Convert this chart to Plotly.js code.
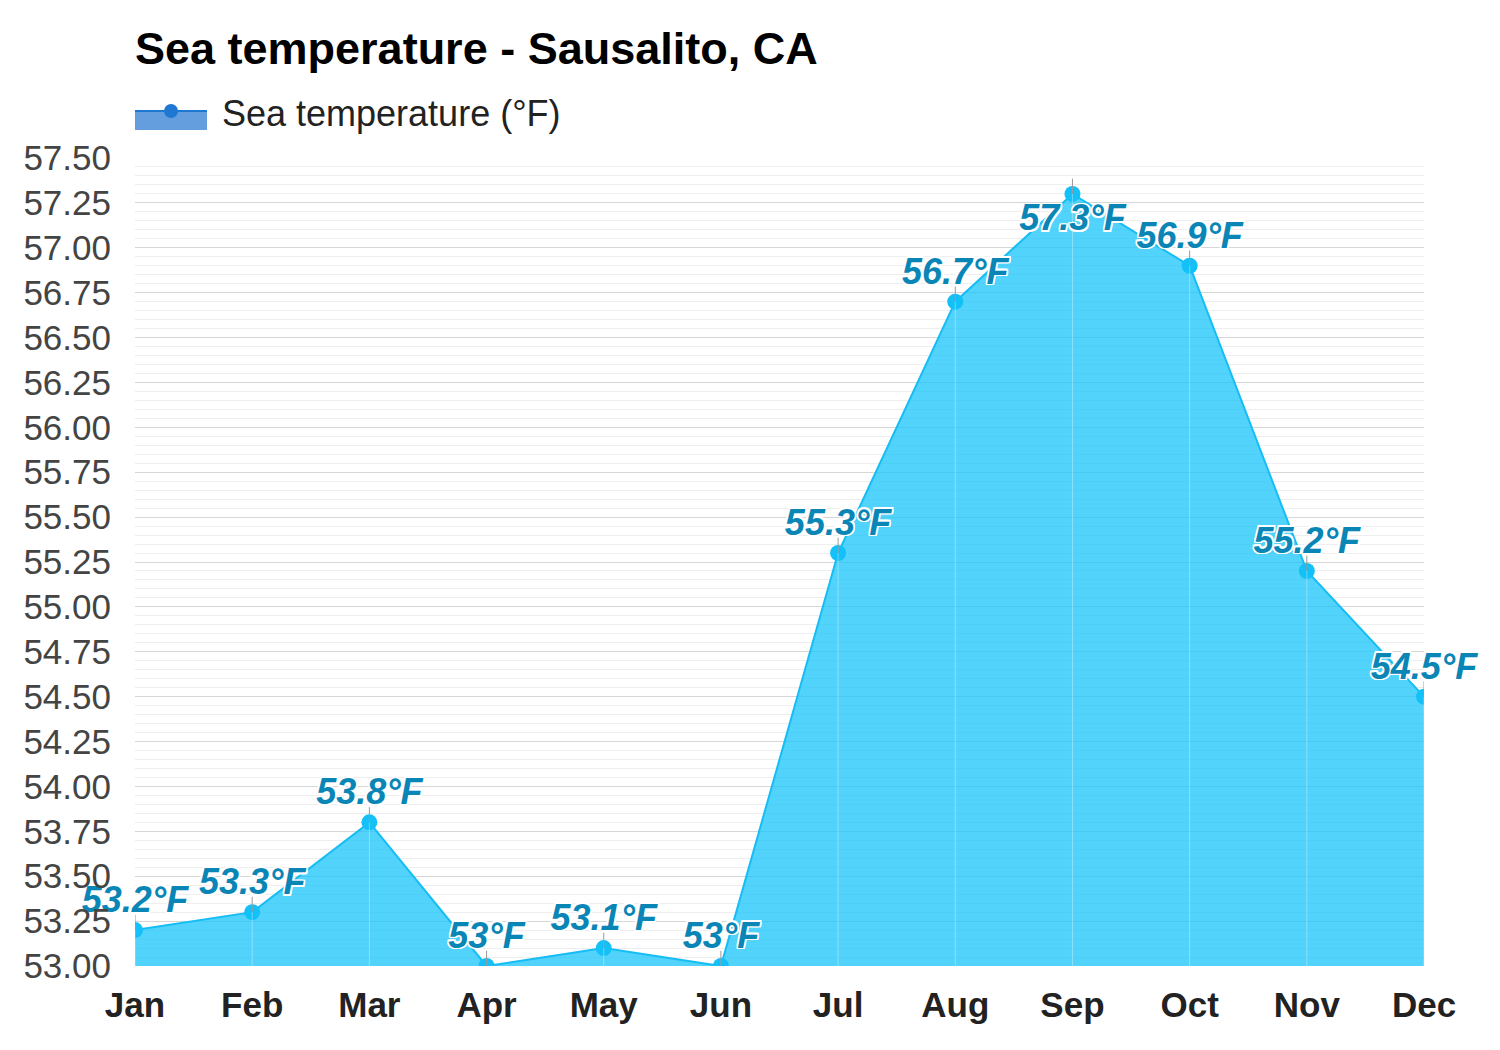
<!DOCTYPE html>
<html>
<head>
<meta charset="utf-8">
<script src="https://cdn.plot.ly/plotly-3.0.1.min.js"></script>
<style>html,body{margin:0;padding:0;background:#fff;}#chart{width:1500px;height:1050px;}</style>
</head>
<body>
<div id="chart"></div>
<script>
const months = ["Jan","Feb","Mar","Apr","May","Jun","Jul","Aug","Sep","Oct","Nov","Dec"];
const seaTemp = [53.2, 53.3, 53.8, 53.0, 53.1, 53.0, 55.3, 56.7, 57.3, 56.9, 55.2, 54.5];
const labels = ["53.2°F","53.3°F","53.8°F","53°F","53.1°F","53°F","55.3°F","56.7°F","57.3°F","56.9°F","55.2°F","54.5°F"];
const labelPos = ["top center","top center","top center","top center","top center","top center","top center","top center","bottom center","top center","top center","top center"];
const yMin = 53.0, yMax = 57.5;
const seriesName = "Sea temperature (°F)";

const FONT = "Liberation Sans, Arial, Helvetica, sans-serif";
const outline = "-1.5px -1.5px 0 #fff, 1.5px -1.5px 0 #fff, -1.5px 1.5px 0 #fff, 1.5px 1.5px 0 #fff, 0 1.5px 0 #fff, 0 -1.5px 0 #fff, 1.5px 0 0 #fff, -1.5px 0 0 #fff";

// plot area in px (for legend placement in paper coords)
const L = 135, R = 1424, T = 158, B = 966;
const px = v => (v - L) / (R - L);
const py = v => (B - v) / (B - T);

const traces = [
  {
    x: months, y: seaTemp, type: "scatter", mode: "lines+markers",
    fill: "tozeroy", fillcolor: "rgba(20,195,250,0.74)",
    line: {color: "#16bdf5", width: 2},
    marker: {color: "#14c0f8", size: 16},
    name: seriesName, showlegend: false, hoverinfo: "skip", cliponaxis: true
  },
  {
    x: months, y: seaTemp, type: "scatter", mode: "markers",
    marker: {color: "rgba(0,0,0,0)", size: 1},
    error_y: {type: "data", symmetric: false, array: seaTemp.map(() => 0), arrayminus: seaTemp.map(v => v - yMin),
              color: "rgba(255,255,255,0.35)", thickness: 1, width: 0},
    showlegend: false, hoverinfo: "skip", cliponaxis: true
  },
  {
    x: months, y: seaTemp, type: "scatter", mode: "markers+text",
    marker: {color: "rgba(0,0,0,0)", size: 13},
    error_y: {type: "constant", symmetric: false, value: 0.085, valueminus: 0,
              color: "#9a9a9a", thickness: 1, width: 0},
    text: labels, textposition: labelPos,
    textfont: {family: FONT, size: 36, color: "#0a86b6", weight: "bold", style: "italic", shadow: outline},
    showlegend: false, hoverinfo: "skip", cliponaxis: false
  }
];

const layout = {
  width: 1500, height: 1050,
  paper_bgcolor: "#fff", plot_bgcolor: "#fff",
  margin: {l: L, r: 1500 - R, t: T, b: 1050 - B},
  hovermode: false,
  font: {family: FONT},
  title: {
    text: "Sea temperature - Sausalito, CA",
    font: {family: FONT, size: 45, color: "#000", weight: "bold"},
    xref: "container", yref: "container",
    x: 135/1500, xanchor: "left", y: 1 - 48/1050, yanchor: "middle"
  },
  showlegend: false,
  shapes: [
    {type: "rect", xref: "paper", yref: "paper", x0: px(135), x1: px(207), y0: py(130), y1: py(111),
     fillcolor: "rgba(40,120,210,0.72)", line: {width: 0}, layer: "above"},
    {type: "line", xref: "paper", yref: "paper", x0: px(135), x1: px(207), y0: py(111), y1: py(111),
     line: {color: "#1e78d2", width: 2}, layer: "above"},
    {type: "circle", xref: "paper", yref: "paper", x0: px(164), x1: px(178), y0: py(118), y1: py(104),
     fillcolor: "#1e78d2", line: {width: 0}, layer: "above"}
  ],
  annotations: [
    {text: seriesName, xref: "paper", yref: "paper", x: px(220), y: py(113), xanchor: "left", yanchor: "middle",
     showarrow: false, font: {family: FONT, size: 36, color: "#222"}}
  ],
  xaxis: {
    type: "category", range: [0, 11], showgrid: false, zeroline: false, showline: false,
    tickfont: {family: FONT, size: 35, color: "#222", weight: "bold"},
    ticks: "", ticklabelstandoff: 15, fixedrange: true
  },
  yaxis: {
    range: [yMin, yMax], dtick: 0.25, tick0: 53, tickformat: ".2f",
    showgrid: true, gridcolor: "#d6d6d6", gridwidth: 1, zeroline: false, showline: false,
    minor: {dtick: 0.05, showgrid: true, gridcolor: "#eeeeee", gridwidth: 1},
    tickfont: {family: FONT, size: 35, color: "#444"},
    ticks: "", ticklabelstandoff: 23, fixedrange: true
  }
};

Plotly.newPlot("chart", traces, layout, {staticPlot: true, displayModeBar: false});
</script>
</body>
</html>
